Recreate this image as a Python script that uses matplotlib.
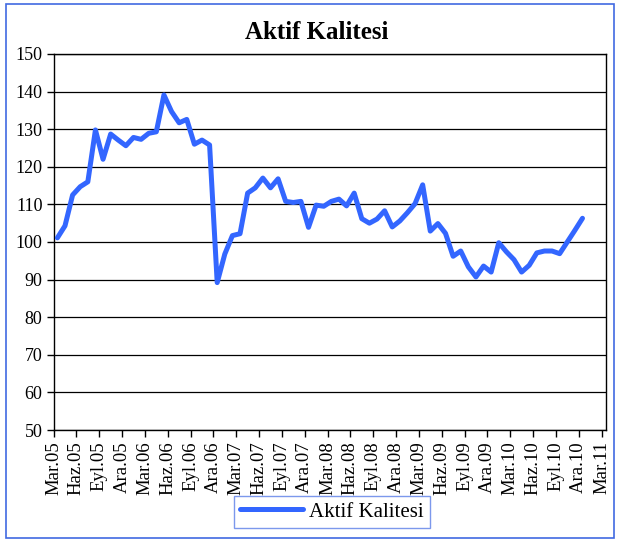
import matplotlib
matplotlib.use("Agg")
import matplotlib.pyplot as plt
from matplotlib.patches import Rectangle

# Monthly asset-quality index, Mar.05 .. Ara.10
values = [
    101.1, 104.3, 112.5, 114.7, 116.0, 129.8, 122.0, 128.7, 127.1, 125.6,
    127.8, 127.3, 128.9, 129.3, 139.1, 134.7, 131.7, 132.6, 126.0, 127.1, 125.8, 89.2,
    96.8, 101.7, 102.2, 113.0, 114.4, 117.0, 114.4, 116.8, 110.8, 110.5, 110.8, 103.9,
    109.8, 109.5, 110.8, 111.4, 109.6, 113.0, 106.2, 105.0, 106.1, 108.3, 104.0, 105.6,
    107.8, 110.2, 115.2, 102.9, 104.9, 102.3, 96.2, 97.6, 93.4, 90.7, 93.6, 92.0,
    99.8, 97.4, 95.3, 92.0, 93.8, 97.1, 97.6, 97.6, 96.9, 100.0, 103.1, 106.3,
]
tick_labels = [
    "Mar.05", "Haz.05", "Eyl.05", "Ara.05", "Mar.06", "Haz.06", "Eyl.06", "Ara.06",
    "Mar.07", "Haz.07", "Eyl.07", "Ara.07", "Mar.08", "Haz.08", "Eyl.08", "Ara.08",
    "Mar.09", "Haz.09", "Eyl.09", "Ara.09", "Mar.10", "Haz.10", "Eyl.10", "Ara.10",
    "Mar.11",
]
series_name = "Aktif Kalitesi"
y_ticks = list(range(50, 151, 10))

plt.rcParams["font.family"] = ["Liberation Serif", "DejaVu Serif"]

fig = plt.figure(figsize=(6.18, 5.43), dpi=100)
ax = fig.add_axes([0.0867, 0.2081, 0.894, 0.6925])

months = list(range(len(values)))
line, = ax.plot(months, values, color="#3366FF", linewidth=3.6,
                solid_joinstyle="round", solid_capstyle="round",
                label=series_name, zorder=3)

ax.set_ylim(50, 150)
ax.set_yticks(y_ticks)
ax.set_yticklabels([str(v) for v in y_ticks], fontsize=13)
ax.set_xlim(-0.5, 72.1)
ax.set_xticks([3 * k - 0.5 for k in range(len(tick_labels))])
ax.set_xticklabels(tick_labels, rotation=90, fontsize=13.5)
ax.tick_params(axis="both", direction="out", length=5, width=1, color="black", pad=3)

ax.grid(axis="y", color="black", linewidth=0.9)
ax.set_axisbelow(True)
for s in ax.spines.values():
    s.set_color("black")
    s.set_linewidth(1.0)

fig.text(0.513, 0.941, series_name, ha="center", va="center",
         fontsize=18, fontweight="bold")

leg = fig.legend(handles=[line], loc="center",
                 bbox_to_anchor=(332 / 618, 1 - 512 / 543),
                 fontsize=15, frameon=True, fancybox=False,
                 handlelength=3.0, handletextpad=0.3, borderpad=0.3)
leg.get_frame().set_edgecolor("#5B7FE8")
leg.get_frame().set_linewidth(1.0)

# outer chart frame
fig.patches.append(Rectangle((6 / 618, 1 - 538 / 543), 608 / 618, 534 / 543,
                             transform=fig.transFigure, fill=False,
                             edgecolor="#4169E1", linewidth=1.2))

fig.savefig("out.png", dpi=100)
